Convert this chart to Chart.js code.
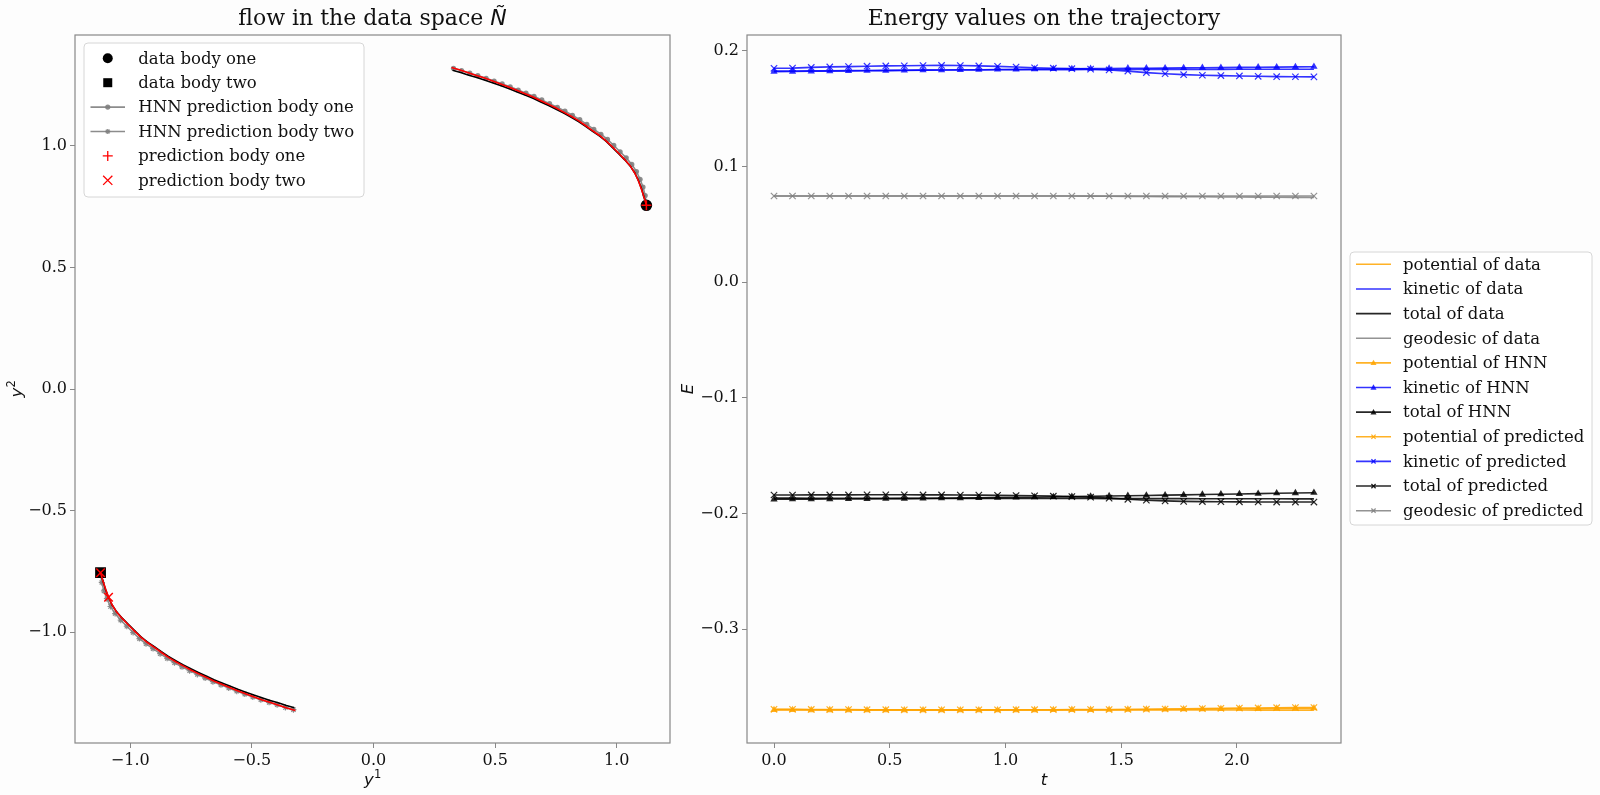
<!DOCTYPE html>
<html><head><meta charset="utf-8">
<script src="https://cdn.jsdelivr.net/npm/chart.js@4/dist/chart.umd.min.js"></script>
<style>
html,body{margin:0;padding:0;background:#fdfdfd;}
#wrap{position:relative;width:1600px;height:795px;overflow:hidden;}
canvas{position:absolute;left:0;top:0;}
</style></head><body>
<div id="wrap"><canvas id="c1" width="1600" height="795"></canvas><canvas id="c2" width="1600" height="795"></canvas></div>
<script>
// ---------- left chart data (y^1, y^2) ----------
const b1DataX = [1.122,1.112,1.102,1.090,1.075,1.056,1.033,1.008,0.982,0.957,0.930,0.901,0.872,0.843,0.813,0.782,0.751,0.720,0.688,0.656,0.623,0.591,0.558,0.525,0.492,0.459,0.425,0.392,0.358,0.325];
const b1DataY = [0.755,0.789,0.823,0.855,0.887,0.916,0.942,0.967,0.993,1.018,1.039,1.059,1.080,1.099,1.117,1.134,1.150,1.165,1.180,1.195,1.208,1.221,1.234,1.246,1.258,1.269,1.280,1.290,1.301,1.310];
const b2DataX = [-1.122,-1.112,-1.102,-1.090,-1.075,-1.056,-1.033,-1.008,-0.982,-0.957,-0.930,-0.901,-0.872,-0.843,-0.813,-0.782,-0.751,-0.720,-0.688,-0.656,-0.623,-0.591,-0.558,-0.525,-0.492,-0.459,-0.425,-0.392,-0.358,-0.325];
const b2DataY = [-0.755,-0.789,-0.823,-0.855,-0.887,-0.916,-0.942,-0.967,-0.993,-1.018,-1.039,-1.059,-1.080,-1.099,-1.117,-1.134,-1.150,-1.165,-1.180,-1.195,-1.208,-1.221,-1.234,-1.246,-1.258,-1.269,-1.280,-1.290,-1.301,-1.310];
const b1HnnX = [1.122,1.117,1.108,1.096,1.081,1.062,1.039,1.014,0.988,0.962,0.935,0.906,0.877,0.848,0.818,0.787,0.756,0.724,0.692,0.660,0.627,0.595,0.562,0.529,0.496,0.463,0.429,0.396,0.362,0.329];
const b1HnnY = [0.755,0.795,0.830,0.862,0.894,0.923,0.950,0.975,1.001,1.026,1.047,1.067,1.088,1.107,1.125,1.142,1.158,1.173,1.188,1.203,1.216,1.229,1.242,1.254,1.266,1.277,1.288,1.298,1.309,1.318];
const b2HnnX = [-1.122,-1.117,-1.108,-1.096,-1.081,-1.062,-1.039,-1.014,-0.988,-0.962,-0.935,-0.906,-0.877,-0.848,-0.818,-0.787,-0.756,-0.724,-0.692,-0.660,-0.627,-0.595,-0.562,-0.529,-0.496,-0.463,-0.429,-0.396,-0.362,-0.329];
const b2HnnY = [-0.755,-0.795,-0.830,-0.862,-0.894,-0.923,-0.950,-0.975,-1.001,-1.026,-1.047,-1.067,-1.088,-1.107,-1.125,-1.142,-1.158,-1.173,-1.188,-1.203,-1.216,-1.229,-1.242,-1.254,-1.266,-1.277,-1.288,-1.298,-1.309,-1.318];
const b1PredX = [1.122,1.112,1.101,1.089,1.074,1.055,1.032,1.007,0.981,0.955,0.928,0.899,0.870,0.841,0.811,0.780,0.749,0.718,0.686,0.654,0.621,0.589,0.556,0.523,0.490,0.457,0.423,0.390,0.356,0.321];
const b1PredY = [0.755,0.789,0.823,0.856,0.888,0.918,0.944,0.970,0.996,1.021,1.043,1.063,1.084,1.104,1.122,1.139,1.156,1.171,1.186,1.201,1.215,1.228,1.241,1.254,1.266,1.278,1.289,1.300,1.311,1.321];
const b2PredX = [-1.122,-1.112,-1.101,-1.089,-1.074,-1.055,-1.032,-1.007,-0.981,-0.955,-0.928,-0.899,-0.870,-0.841,-0.811,-0.780,-0.749,-0.718,-0.686,-0.654,-0.621,-0.589,-0.556,-0.523,-0.490,-0.457,-0.423,-0.390,-0.356,-0.321];
const b2PredY = [-0.755,-0.789,-0.823,-0.856,-0.888,-0.918,-0.944,-0.970,-0.996,-1.021,-1.043,-1.063,-1.084,-1.104,-1.122,-1.139,-1.156,-1.171,-1.186,-1.201,-1.215,-1.228,-1.241,-1.254,-1.266,-1.278,-1.289,-1.300,-1.311,-1.321];
const leftXTicks = [-1.0,-0.5,0.0,0.5,1.0];
const leftYTicks = [-1.0,-0.5,0.0,0.5,1.0];
const leftLabels = ['data body one','data body two','HNN prediction body one','HNN prediction body two','prediction body one','prediction body two'];

// ---------- right chart data (energies) ----------
const tVals = [0,0.080,0.161,0.241,0.322,0.402,0.483,0.563,0.644,0.724,0.805,0.885,0.966,1.046,1.126,1.207,1.287,1.368,1.448,1.529,1.609,1.690,1.770,1.851,1.931,2.011,2.092,2.172,2.253,2.333];
const potData = [-0.3694,-0.3694,-0.3695,-0.3695,-0.3695,-0.3696,-0.3696,-0.3696,-0.3697,-0.3697,-0.3697,-0.3697,-0.3697,-0.3698,-0.3698,-0.3698,-0.3698,-0.3698,-0.3698,-0.3698,-0.3698,-0.3698,-0.3698,-0.3698,-0.3698,-0.3698,-0.3699,-0.3699,-0.3699,-0.3699];
const kinData = [0.1826,0.1827,0.1828,0.1829,0.1830,0.1831,0.1832,0.1833,0.1834,0.1835,0.1836,0.1836,0.1837,0.1838,0.1838,0.1839,0.1839,0.1840,0.1840,0.1840,0.1841,0.1841,0.1841,0.1841,0.1841,0.1842,0.1842,0.1842,0.1842,0.1842];
const totData = [-0.1866,-0.1866,-0.1867,-0.1867,-0.1867,-0.1867,-0.1868,-0.1868,-0.1868,-0.1868,-0.1868,-0.1868,-0.1868,-0.1869,-0.1869,-0.1869,-0.1869,-0.1869,-0.1870,-0.1870,-0.1870,-0.1870,-0.1870,-0.1871,-0.1871,-0.1871,-0.1871,-0.1871,-0.1872,-0.1872];
const geoData = [0.0746,0.0746,0.0746,0.0746,0.0746,0.0746,0.0746,0.0746,0.0746,0.0746,0.0746,0.0746,0.0746,0.0746,0.0746,0.0746,0.0746,0.0745,0.0744,0.0743,0.0742,0.0741,0.0740,0.0739,0.0738,0.0737,0.0736,0.0735,0.0734,0.0733];
const potHnn = [-0.3697,-0.3697,-0.3698,-0.3698,-0.3698,-0.3699,-0.3699,-0.3699,-0.3699,-0.3699,-0.3699,-0.3699,-0.3699,-0.3698,-0.3698,-0.3697,-0.3696,-0.3696,-0.3695,-0.3694,-0.3693,-0.3692,-0.3691,-0.3690,-0.3688,-0.3687,-0.3686,-0.3684,-0.3683,-0.3682];
const kinHnn = [0.1821,0.1822,0.1824,0.1826,0.1827,0.1829,0.1830,0.1832,0.1834,0.1835,0.1837,0.1838,0.1840,0.1841,0.1843,0.1844,0.1845,0.1847,0.1848,0.1850,0.1851,0.1852,0.1854,0.1855,0.1856,0.1858,0.1859,0.1860,0.1862,0.1864];
const totHnn = [-0.1876,-0.1875,-0.1875,-0.1874,-0.1873,-0.1872,-0.1871,-0.1870,-0.1869,-0.1867,-0.1866,-0.1864,-0.1862,-0.1860,-0.1858,-0.1856,-0.1853,-0.1851,-0.1848,-0.1846,-0.1843,-0.1840,-0.1838,-0.1835,-0.1832,-0.1830,-0.1827,-0.1824,-0.1822,-0.1819];
const potPred = [-0.3692,-0.3692,-0.3693,-0.3694,-0.3694,-0.3695,-0.3695,-0.3696,-0.3696,-0.3696,-0.3696,-0.3696,-0.3696,-0.3695,-0.3695,-0.3695,-0.3694,-0.3694,-0.3694,-0.3693,-0.3691,-0.3689,-0.3687,-0.3685,-0.3683,-0.3681,-0.3680,-0.3678,-0.3677,-0.3676];
const kinPred = [0.1850,0.1852,0.1858,0.1862,0.1865,0.1868,0.1871,0.1872,0.1874,0.1875,0.1874,0.1871,0.1867,0.1861,0.1855,0.1851,0.1847,0.1843,0.1836,0.1826,0.1813,0.1803,0.1795,0.1790,0.1787,0.1784,0.1781,0.1778,0.1777,0.1776];
const totPred = [-0.1839,-0.1839,-0.1838,-0.1838,-0.1838,-0.1837,-0.1837,-0.1837,-0.1838,-0.1838,-0.1839,-0.1840,-0.1842,-0.1844,-0.1846,-0.1849,-0.1853,-0.1858,-0.1866,-0.1876,-0.1884,-0.1890,-0.1894,-0.1896,-0.1897,-0.1898,-0.1899,-0.1900,-0.1900,-0.1900];
const geoPred = [0.0746,0.0746,0.0746,0.0746,0.0746,0.0746,0.0746,0.0746,0.0746,0.0746,0.0746,0.0746,0.0746,0.0746,0.0746,0.0746,0.0746,0.0746,0.0746,0.0746,0.0746,0.0746,0.0746,0.0746,0.0746,0.0746,0.0746,0.0746,0.0746,0.0746];
const rightXTicks = [0.0,0.5,1.0,1.5,2.0];
const rightYTicks = [-0.3,-0.2,-0.1,0.0,0.1,0.2];
const rightLabels = ['potential of data','kinetic of data','total of data','geodesic of data','potential of HNN','kinetic of HNN','total of HNN','potential of predicted','kinetic of predicted','total of predicted','geodesic of predicted'];

// ---------- helpers ----------
Chart.defaults.font.family = "'DejaVu Serif'";
Chart.defaults.animation = false;
const SERIF = "'DejaVu Serif'";
const MATH = "'DejaVu Sans'";
const pts = (xs, ys) => xs.map((x, i) => ({x: x, y: ys[i]}));
const fmt = v => (v < 0 ? '\u2212' : '') + Math.abs(v).toFixed(1);

function axis(min, max, ticks, isX, size) {
  return {
    type: 'linear', min: min, max: max, position: isX ? 'bottom' : 'left',
    afterBuildTicks: a => { a.ticks = ticks.map(v => ({value: v})); },
    afterFit: s => { if (isX) s.height = size; else s.width = size; },
    grid: {display: true, drawOnChartArea: false, drawTicks: true, tickLength: 5, color: '#888', tickWidth: 1},
    border: {display: false},
    ticks: {font: {family: SERIF, size: 16}, color: '#111', padding: 3, maxRotation: 0, autoSkip: false, callback: v => fmt(v)}
  };
}

function drawMarker(ctx, style, x, y, r, color, lw) {
  ctx.save();
  ctx.fillStyle = color; ctx.strokeStyle = color; ctx.lineWidth = lw || 1.5;
  ctx.beginPath();
  const d = r * Math.SQRT1_2;
  if (style === 'circle') { ctx.arc(x, y, r, 0, Math.PI * 2); ctx.fill(); }
  else if (style === 'rect') { ctx.fillRect(x - r, y - r, 2 * r, 2 * r); }
  else if (style === 'triangle') { ctx.moveTo(x, y - r); ctx.lineTo(x + r * 0.95, y + r * 0.7); ctx.lineTo(x - r * 0.95, y + r * 0.7); ctx.closePath(); ctx.fill(); }
  else if (style === 'cross') { ctx.moveTo(x - r, y); ctx.lineTo(x + r, y); ctx.moveTo(x, y - r); ctx.lineTo(x, y + r); ctx.stroke(); }
  else if (style === 'crossRot') { ctx.moveTo(x - d, y - d); ctx.lineTo(x + d, y + d); ctx.moveTo(x - d, y + d); ctx.lineTo(x + d, y - d); ctx.stroke(); }
  else if (style === 'star') { ctx.moveTo(x - r, y); ctx.lineTo(x + r, y); ctx.moveTo(x, y - r); ctx.lineTo(x, y + r); ctx.moveTo(x - d, y - d); ctx.lineTo(x + d, y + d); ctx.moveTo(x - d, y + d); ctx.lineTo(x + d, y - d); ctx.stroke(); }
  ctx.restore();
}

function roundBox(ctx, x, y, w, h, r) {
  ctx.beginPath();
  ctx.moveTo(x + r, y); ctx.lineTo(x + w - r, y); ctx.arcTo(x + w, y, x + w, y + r, r);
  ctx.lineTo(x + w, y + h - r); ctx.arcTo(x + w, y + h, x + w - r, y + h, r);
  ctx.lineTo(x + r, y + h); ctx.arcTo(x, y + h, x, y + h - r, r);
  ctx.lineTo(x, y + r); ctx.arcTo(x, y, x + r, y, r); ctx.closePath();
  ctx.fillStyle = 'rgba(255,255,255,0.8)'; ctx.fill();
  ctx.strokeStyle = '#d6d6d6'; ctx.lineWidth = 1; ctx.stroke();
}

function drawLegend(ctx, chart, order, box, rowY0, rowDy, lineX0, lineX1, textX) {
  roundBox(ctx, box[0], box[1], box[2], box[3], 4);
  const ds = chart.data.datasets;
  order.forEach((di, i) => {
    const d = ds[di], y = rowY0 + i * rowDy, cx = (lineX0 + lineX1) / 2;
    if (d.legendLine) {
      ctx.save(); ctx.strokeStyle = d.borderColor; ctx.lineWidth = d.borderWidth;
      ctx.beginPath(); ctx.moveTo(lineX0, y); ctx.lineTo(lineX1, y); ctx.stroke(); ctx.restore();
    }
    if (d.legendMarker) drawMarker(ctx, d.legendMarker, cx, y, d.legendR, d.legendColor || d.borderColor, 1.3);
    ctx.save(); ctx.fillStyle = '#111'; ctx.font = '16.5px ' + SERIF; ctx.textAlign = 'left'; ctx.textBaseline = 'middle';
    ctx.fillText(d.label, textX, y + 1); ctx.restore();
  });
}

function frame(ctx, a) {
  ctx.save(); ctx.strokeStyle = '#888'; ctx.lineWidth = 1.2;
  ctx.strokeRect(a.left, a.top, a.right - a.left, a.bottom - a.top); ctx.restore();
}

// ---------- left chart ----------
const GRAY = 'rgba(128,128,128,0.9)';
const leftDatasets = [
  {label: leftLabels[5], data: pts(b2PredX, b2PredY), showLine: true, borderColor: 'red', backgroundColor: 'red', borderWidth: 1.6,
   pointStyle: 'crossRot', pointRadius: c => (c.dataIndex === 0 || c.dataIndex === 3) ? 6 : 0, pointBorderWidth: 1.5, legendMarker: 'crossRot', legendR: 6.5, legendLine: false},
  {label: leftLabels[4], data: pts(b1PredX, b1PredY), showLine: true, borderColor: 'red', backgroundColor: 'red', borderWidth: 1.6,
   pointStyle: 'cross', pointRadius: c => c.dataIndex === 0 ? 5 : 0, pointBorderWidth: 1.5, legendMarker: 'cross', legendR: 5, legendLine: false},
  {label: leftLabels[0], data: pts(b1DataX, b1DataY), showLine: true, borderColor: '#000', backgroundColor: '#000', borderWidth: 1.6,
   pointStyle: 'circle', pointRadius: c => c.dataIndex === 0 ? 5 : 0, legendMarker: 'circle', legendR: 5, legendLine: false},
  {label: leftLabels[1], data: pts(b2DataX, b2DataY), showLine: true, borderColor: '#000', backgroundColor: '#000', borderWidth: 1.6,
   pointStyle: 'rect', pointRadius: c => c.dataIndex === 0 ? 6.5 : 0, legendMarker: 'rect', legendR: 4.5, legendLine: false},
  {label: leftLabels[2], data: pts(b1HnnX, b1HnnY), showLine: true, borderColor: GRAY, backgroundColor: GRAY, borderWidth: 1.6,
   pointStyle: 'circle', pointRadius: 2.6, pointBorderWidth: 0, legendMarker: 'circle', legendR: 2.6, legendLine: true},
  {label: leftLabels[3], data: pts(b2HnnX, b2HnnY), showLine: true, borderColor: GRAY, backgroundColor: GRAY, borderWidth: 1.6,
   pointStyle: 'star', pointRadius: 3, pointBorderWidth: 1.2, legendMarker: 'star', legendR: 2.6, legendLine: true}
];

const leftPlugin = {
  id: 'leftDecor',
  afterDraw(chart) {
    const ctx = chart.ctx, a = chart.chartArea;
    frame(ctx, a);
    const cx = (a.left + a.right) / 2;
    ctx.save(); ctx.fillStyle = '#111';
    // title
    ctx.font = '22px ' + SERIF; ctx.textBaseline = 'alphabetic';
    const t1 = 'flow in the data space ';
    const w1 = ctx.measureText(t1).width;
    ctx.font = 'italic 22px ' + MATH; const w2 = ctx.measureText('\u00D1').width;
    const x0 = cx - (w1 + w2) / 2;
    ctx.font = '22px ' + SERIF; ctx.textAlign = 'left'; ctx.fillText(t1, x0, 25);
    ctx.font = 'italic 22px ' + MATH; ctx.fillText('\u00D1', x0 + w1, 25);
    // x label y^1
    ctx.font = 'italic 16.5px ' + MATH; const wy = ctx.measureText('y').width;
    ctx.fillText('y', cx - (wy + 7) / 2, 785);
    ctx.font = '11.5px ' + MATH; ctx.fillText('1', cx - (wy + 7) / 2 + wy, 778);
    // y label y^2 (rotated)
    ctx.save(); ctx.translate(22, (a.top + a.bottom) / 2); ctx.rotate(-Math.PI / 2);
    ctx.font = 'italic 16.5px ' + MATH; ctx.fillText('y', -(wy + 7) / 2, 0);
    ctx.font = '11.5px ' + MATH; ctx.fillText('2', -(wy + 7) / 2 + wy, -7);
    ctx.restore();
    ctx.restore();
    drawLegend(ctx, chart, [2, 3, 4, 5, 1, 0], [84, 43, 280, 154], 58.3, 24.4, 90.5, 125, 138.3);
  }
};

new Chart(document.getElementById('c1'), {
  type: 'scatter',
  data: {datasets: leftDatasets},
  options: {
    responsive: false, animation: false,
    layout: {padding: {left: 0, top: 35, right: 930, bottom: 22}},
    plugins: {legend: {display: false}, tooltip: {enabled: false}, title: {display: false}},
    elements: {line: {tension: 0}},
    scales: {x: axis(-1.227, 1.219, leftXTicks, true, 30), y: axis(-1.455, 1.455, leftYTicks, false, 75)}
  },
  plugins: [leftPlugin]
});

// ---------- right chart ----------
const ORANGE = 'rgba(255,165,0,0.85)', BLUE = 'rgba(0,0,255,0.8)', BLACK = 'rgba(0,0,0,0.85)', GRAY2 = 'rgba(128,128,128,0.85)';
const rightSeries = [potData, kinData, totData, geoData, potHnn, kinHnn, totHnn, potPred, kinPred, totPred, geoPred];
const rightColors = [ORANGE, BLUE, BLACK, GRAY2, ORANGE, BLUE, BLACK, ORANGE, BLUE, BLACK, GRAY2];
const rightMarkers = [null, null, null, null, 'triangle', 'triangle', 'triangle', 'crossRot', 'crossRot', 'crossRot', 'crossRot'];
const rightDatasets = rightSeries.map((vals, i) => ({
  label: rightLabels[i], data: pts(tVals, vals), borderColor: rightColors[i], backgroundColor: rightColors[i], borderWidth: 1.6,
  pointStyle: rightMarkers[i] || 'circle', pointRadius: rightMarkers[i] ? (rightMarkers[i] === 'triangle' ? 4.2 : 4.5) : 0,
  pointBorderWidth: rightMarkers[i] === 'crossRot' ? 1.2 : 0, order: 11 - i,
  legendMarker: rightMarkers[i], legendR: rightMarkers[i] === 'triangle' ? 3.2 : 3, legendLine: true
}));

const rightPlugin = {
  id: 'rightDecor',
  afterDraw(chart) {
    const ctx = chart.ctx, a = chart.chartArea;
    frame(ctx, a);
    const cx = (a.left + a.right) / 2;
    ctx.save(); ctx.fillStyle = '#111';
    ctx.font = '22px ' + SERIF; ctx.textAlign = 'center'; ctx.textBaseline = 'alphabetic';
    ctx.fillText('Energy values on the trajectory', cx, 25);
    ctx.font = 'italic 16.5px ' + MATH;
    ctx.fillText('t', cx, 785);
    ctx.save(); ctx.translate(693, (a.top + a.bottom) / 2); ctx.rotate(-Math.PI / 2);
    ctx.fillText('E', 0, 0); ctx.restore();
    ctx.restore();
    drawLegend(ctx, chart, [0,1,2,3,4,5,6,7,8,9,10], [1350, 252, 242, 273], 264.3, 24.64, 1356, 1391, 1403);
  }
};

new Chart(document.getElementById('c2'), {
  type: 'line',
  data: {datasets: rightDatasets},
  options: {
    responsive: false, animation: false,
    layout: {padding: {left: 667, top: 35, right: 259, bottom: 22}},
    plugins: {legend: {display: false}, tooltip: {enabled: false}, title: {display: false}},
    elements: {line: {tension: 0}},
    scales: {x: axis(-0.1167, 2.45, rightXTicks, true, 30), y: axis(-0.3983, 0.2138, rightYTicks, false, 80)}
  },
  plugins: [rightPlugin]
});
</script>
</body></html>
